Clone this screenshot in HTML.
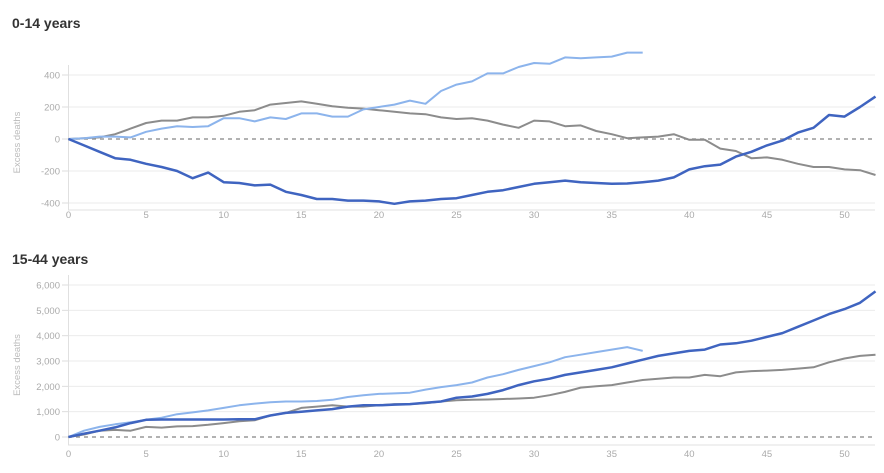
<!DOCTYPE html>
<html><head><meta charset="utf-8"><style>
html,body{margin:0;padding:0;background:#fff;width:884px;height:473px;overflow:hidden}
text{font-family:"Liberation Sans",sans-serif}
</style></head><body>
<svg id="s" width="884" height="473" xmlns="http://www.w3.org/2000/svg"></svg>
<script>
const s=document.getElementById('s');let h='';
const X=v=>68.5+v*15.52;
function chart(title,ty,ticks,y0,k,axisY,lblY,fmt,series){
 h+=`<text x="12" y="${ty}" font-size="14" font-weight="bold" fill="#333">${title}</text>`;
 ticks.forEach(t=>{const y=y0-t*k;
  if(t!==0)h+=`<line x1="68" x2="875" y1="${y}" y2="${y}" stroke="#ebebeb" stroke-width="1"/>`;
  h+=`<line x1="62" x2="68" y1="${y}" y2="${y}" stroke="#ddd"/>`;
  h+=`<text x="60" y="${y+3.5}" font-size="9.5" fill="#aaa" text-anchor="end">${fmt(t)}</text>`;});
 h+=`<line x1="68.5" x2="68.5" y1="${y0-ticks[ticks.length-1]*k-10}" y2="${axisY}" stroke="#e0e0e0"/>`;
 h+=`<line x1="68" x2="875" y1="${axisY}" y2="${axisY}" stroke="#e0e0e0"/>`;
 h+=`<line x1="68" x2="875" y1="${y0}" y2="${y0}" stroke="#999" stroke-width="1.5" stroke-dasharray="4,4"/>`;
 for(let i=0;i<=50;i+=5)h+=`<text x="${X(i)}" y="${lblY}" font-size="9.5" fill="#aaa" text-anchor="middle">${i}</text>`;
 const mid=(y0-ticks[ticks.length-1]*k+axisY)/2;
 h+=`<text transform="translate(20,${mid}) rotate(-90)" font-size="9.5" fill="#bbb" text-anchor="middle">Excess deaths</text>`;
 series.forEach(([c,w,d])=>{h+=`<polyline fill="none" stroke="${c}" stroke-width="${w}" stroke-linejoin="round" points="${d.map((v,i)=>X(i).toFixed(1)+','+(y0-v*k).toFixed(1)).join(' ')}"/>`;});
}
const c=n=>n.toLocaleString('en-US');
chart('0-14 years',28,[-400,-200,0,200,400],139,0.16,210,218,c,[
['#8c8c8c',2,[0,5,10,30,65,100,115,115,135,135,145,170,180,215,225,235,220,205,195,190,180,170,160,155,135,125,130,115,90,70,115,110,80,85,50,30,5,10,15,30,-5,-5,-60,-75,-120,-115,-130,-155,-175,-175,-190,-195,-225]],
['#8cb4ec',2,[0,5,15,15,10,45,65,80,75,80,130,130,110,135,125,160,160,140,140,185,200,215,240,220,300,340,360,410,410,450,475,470,510,505,510,515,540,540]],
['#3f64c0',2.5,[0,-40,-80,-120,-130,-155,-175,-200,-245,-210,-270,-275,-290,-285,-330,-350,-375,-375,-385,-385,-390,-405,-390,-385,-375,-370,-350,-330,-320,-300,-280,-270,-260,-270,-275,-280,-278,-270,-260,-240,-190,-170,-160,-110,-80,-40,-10,40,70,150,140,200,265]]]);
chart('15-44 years',264,[0,1000,2000,3000,4000,5000,6000],437,0.02533,445,457,c,[
['#8c8c8c',2,[0,100,250,280,250,400,370,420,430,480,550,620,660,850,950,1150,1200,1250,1200,1200,1250,1300,1300,1330,1400,1450,1470,1480,1500,1520,1550,1650,1780,1950,2000,2050,2150,2250,2300,2350,2350,2450,2400,2550,2600,2620,2650,2700,2750,2950,3100,3200,3250]],
['#8cb4ec',2,[0,250,400,500,580,680,760,900,970,1050,1150,1250,1320,1370,1400,1400,1420,1470,1580,1650,1700,1720,1750,1870,1970,2050,2150,2350,2480,2650,2800,2950,3150,3250,3350,3450,3550,3400]],
['#3f64c0',2.5,[0,130,250,380,550,680,690,690,690,690,690,700,700,850,950,1000,1050,1100,1200,1250,1250,1280,1300,1350,1400,1550,1600,1700,1850,2050,2200,2300,2450,2550,2650,2750,2900,3050,3200,3300,3400,3450,3650,3700,3800,3950,4100,4350,4600,4850,5050,5300,5750]]]);
s.innerHTML=h;
</script>
</body></html>
